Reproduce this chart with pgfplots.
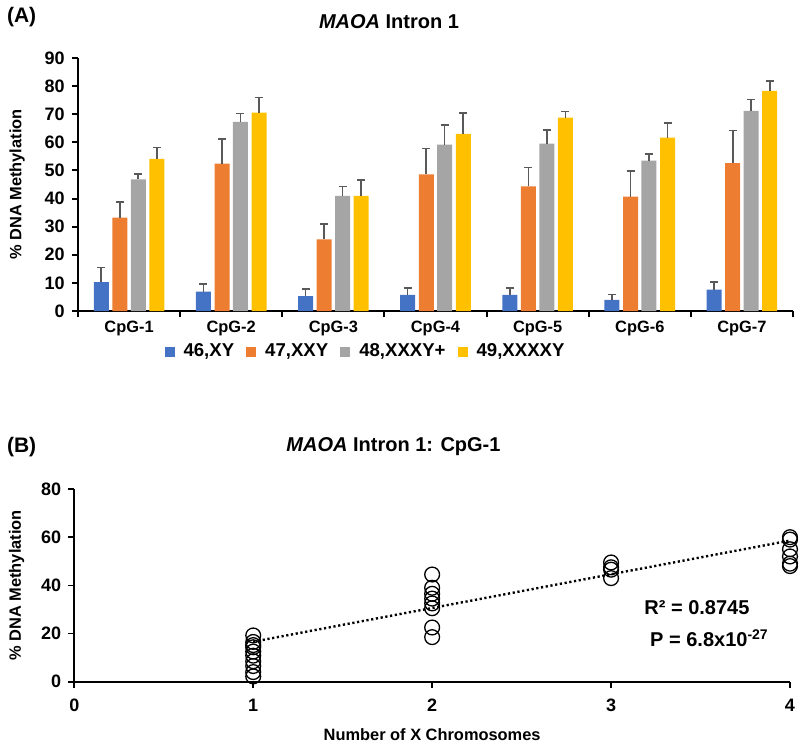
\documentclass[border=0pt]{standalone}
\usepackage{pgfplots}
\pgfplotsset{compat=1.18}
\usepackage{pgfplotstable}
\usepackage{fontspec}
\setmainfont{Liberation Sans}
\definecolor{cblue}{HTML}{4472C4}
\definecolor{corange}{HTML}{ED7D31}
\definecolor{cgray}{HTML}{A5A5A5}
\definecolor{cyellow}{HTML}{FFC000}
\definecolor{errgray}{HTML}{595959}

\pgfplotstableread{
cat b berr o oerr g gerr y yerr
1 10.3 5.2 33.2 5.6 46.8 1.9 54.1 4.1
2 6.9 2.7 52.4 8.7 67.3 2.9 70.6 5.3
3 5.3 2.6 25.5 5.5 41.0 3.3 41.0 5.5
4 5.7 2.5 48.6 9.2 59.2 7.0 63.0 7.5
5 5.7 2.5 44.3 6.8 59.5 4.8 68.8 2.2
6 4.0 1.8 40.7 9.2 53.5 2.3 61.7 5.2
7 7.6 2.8 52.6 11.6 71.2 4.0 78.3 3.6
}\bardata

\pgfplotstableread{
x y
1 19.2
1 16.5
1 15.2
1 14.3
1 12.5
1 10.8
1 8.5
1 6.5
1 4.0
1 2.2
2 44.5
2 39.0
2 36.5
2 34.5
2 32.5
2 30.5
2 22.5
2 18.5
3 49.5
3 47.5
3 46.5
3 43.0
4 60.0
4 59.0
4 55.0
4 52.0
4 49.0
4 48.0
}\scatdata

\newcommand{\xtickfont}{\fontsize{8.2}{9.5}\selectfont\bfseries}
\newcommand{\ytickfont}{\fontsize{9}{10.5}\selectfont\bfseries}
\newcommand{\legfont}{\fontsize{9.3}{11}\selectfont\bfseries}
\newcommand{\labfont}{\fontsize{8.2}{9.5}\selectfont\bfseries}
\newcommand{\titfont}{\fontsize{10}{12}\selectfont\bfseries}
\newcommand{\panfont}{\fontsize{10.5}{12.5}\selectfont\bfseries}

\pgfplotsset{
  errstyle/.style={
    error bars/.cd, y dir=plus, y explicit,
    error bar style={line width=0.8pt, color=errgray},
    error mark options={rotate=90, mark size=2pt, line width=0.8pt, color=errgray}
  }
}

\begin{document}
\begin{tikzpicture}
\useasboundingbox (0,0) rectangle (400pt,-372pt);

% Panel A
\node[anchor=west,font=\panfont] at (0pt,-8.5pt) {(A)};
\node[font=\titfont] at (194.5pt,-10.75pt) {\textit{MAOA} Intron 1};

\begin{axis}[
  at={(39pt,-155.5pt)}, anchor=south west,
  scale only axis, width=357.5pt, height=126.5pt,
  xmin=0.5, xmax=7.5, ymin=0, ymax=90,
  axis lines*=left,
  axis line style={line width=1pt},
  ybar, bar width=7.5pt,
  xtick={0.5,1.5,...,7.5},
  x tick label as interval,
  xticklabels={CpG-1,CpG-2,CpG-3,CpG-4,CpG-5,CpG-6,CpG-7},
  ytick={0,10,...,90},
  tick align=outside,
  major tick length=3.2pt,
  tick style={black, line width=1pt},
  xticklabel style={font=\xtickfont, yshift=1.5pt},
  yticklabel style={font=\ytickfont},
  /pgf/number format/assume math mode=true,
  ylabel={\% DNA Methylation},
  ylabel style={font=\labfont, at={(axis description cs:-0.0853,0.5)}, anchor=center},
  legend style={at={(axis description cs:0.4035,-0.162)}, anchor=center,
    legend columns=4, draw=none, fill=none, font=\legfont,
    /tikz/every even column/.append style={column sep=4pt}},
  legend image code/.code={\fill[#1] (0pt,-2.5pt) rectangle (5pt,2.5pt); \path (7.5pt,0pt);},
]
\addplot[fill=cblue, draw=none, bar shift=-13.9pt, errstyle] table[x=cat, y=b, y error=berr] {\bardata};
\addlegendentry{46,XY}
\addplot[fill=corange, draw=none, bar shift=-4.6pt, errstyle] table[x=cat, y=o, y error=oerr] {\bardata};
\addlegendentry{47,XXY}
\addplot[fill=cgray, draw=none, bar shift=4.6pt, errstyle] table[x=cat, y=g, y error=gerr] {\bardata};
\addlegendentry{48,XXXY+}
\addplot[fill=cyellow, draw=none, bar shift=13.9pt, errstyle] table[x=cat, y=y, y error=yerr] {\bardata};
\addlegendentry{49,XXXXY}
\end{axis}

% Panel B
\node[anchor=west,font=\panfont] at (0pt,-223.5pt) {(B)};
\node[font=\titfont] at (196.75pt,-223.5pt) {\textit{MAOA} Intron 1: CpG-1};

\begin{axis}[
  at={(37.15pt,-340.85pt)}, anchor=south west,
  scale only axis, width=357.85pt, height=96.35pt,
  xmin=0, xmax=4, ymin=0, ymax=80,
  axis lines*=left,
  axis line style={line width=0.8pt},
  xtick={0,1,2,3,4},
  ytick={0,20,...,80},
  tick align=outside,
  major tick length=3pt,
  tick style={black, line width=0.8pt},
  tick label style={font=\ytickfont},
  xticklabel style={yshift=-2pt},
  /pgf/number format/assume math mode=true,
  ylabel={\% DNA Methylation},
  ylabel style={font=\labfont, at={(axis description cs:-0.0805,0.5)}, anchor=center},
  xlabel={Number of X Chromosomes},
  xlabel style={font=\labfont, at={(axis description cs:0.5,-0.277)}, anchor=center},
  clip=false,
]
\addplot[only marks, mark=o, mark size=3.7pt, mark options={fill=white, draw=black, line width=0.65pt}] table[x=x, y=y] {\scatdata};
\addplot[black, line width=1.2pt, dash pattern=on 1.1pt off 1.3pt] coordinates {(1,16.6) (4,58.6)};
\node[font=\titfont] at (axis cs:3.48,30.6) {R² = 0.8745};
\node[font=\titfont] at (axis cs:3.55,18.1) {P = 6.8x10\textsuperscript{-27}};
\end{axis}
\end{tikzpicture}
\end{document}
